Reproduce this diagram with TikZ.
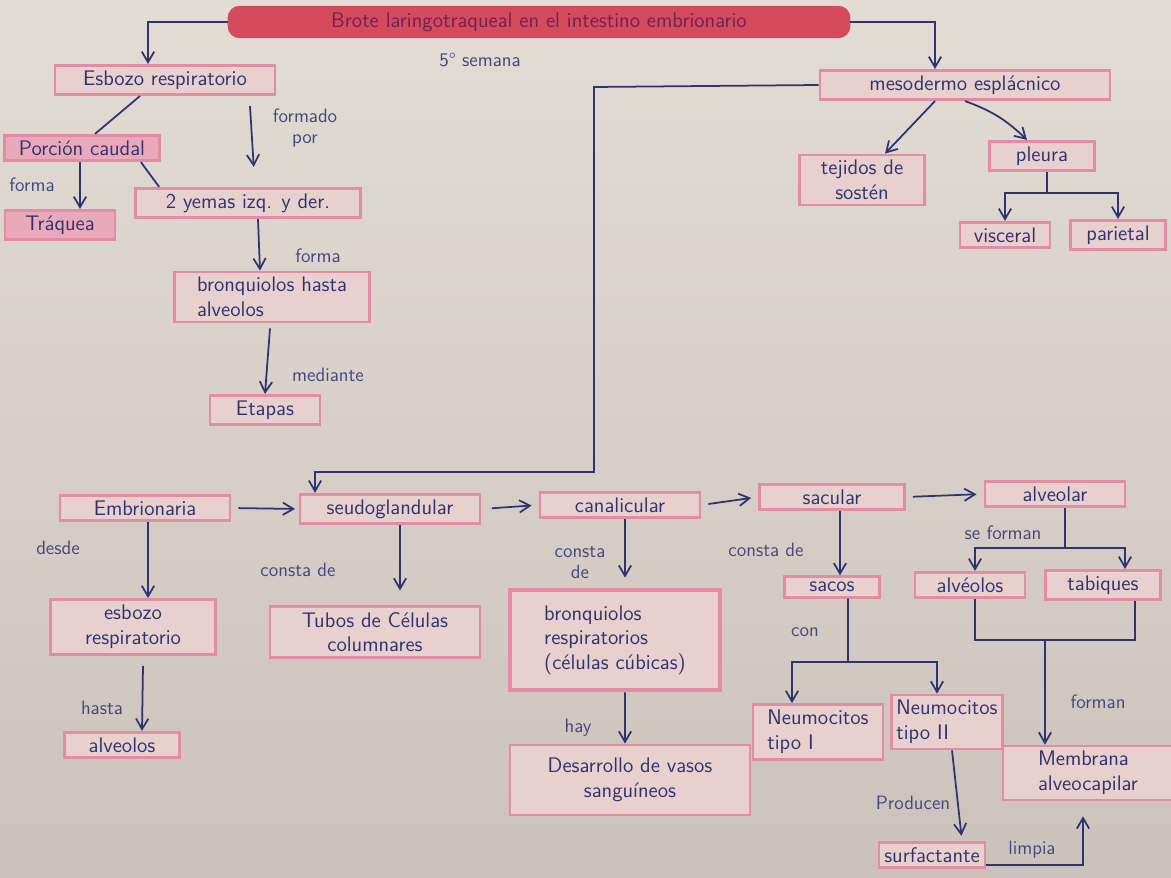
\documentclass[tikz,border=0pt]{standalone}
\usepackage{tikz}
\usetikzlibrary{arrows.meta}

\definecolor{papel}{RGB}{226,220,212}
\definecolor{papelbajo}{RGB}{204,194,188}
\definecolor{tinta}{RGB}{48,52,110}
\definecolor{rosa}{RGB}{226,140,165}
\definecolor{rosafondo}{RGB}{232,208,206}
\definecolor{rojo}{RGB}{214,74,94}
\definecolor{tintatitulo}{RGB}{110,35,80}

\begin{document}
\begin{tikzpicture}
[
    x=0.02cm, y=-0.02cm,
    concepto/.style={draw=rosa, line width=1.6pt, fill=rosafondo, text=tinta,
        font=\sffamily\large, inner sep=3pt, align=center},
    resaltado/.style={concepto, fill=rosa!75},
    etiqueta/.style={text=tinta!90, font=\sffamily\fontsize{11}{12}\selectfont, align=center},
    flecha/.style={-{Straight Barb[length=6pt,width=7pt]}, tinta, line width=1pt},
    linea/.style={tinta, line width=1pt},
]
% hoja
\fill[top color=papel, bottom color=papelbajo] (0,0) rectangle (1171,878);
\useasboundingbox (0,0) rectangle (1171,878);

% titulo
\node [concepto, fill=rojo, draw=rojo, text=tintatitulo, rounded corners=6pt,
    minimum width=12.4cm, minimum height=0.56cm] (titulo) at (539,22)
    {Brote laringotraqueal en el intestino embrionario};
\node [etiqueta] (semana) at (480,60) {5° semana};

% rama izquierda
\node [concepto, minimum width=4.4cm] (esbozo) at (165,80) {Esbozo respiratorio};
\node [resaltado, minimum width=3.1cm] (porcion) at (82,148) {Porción caudal};
\node [resaltado, minimum width=2.2cm] (traquea) at (60,225) {Tráquea};
\node [concepto, minimum width=4.5cm] (yemas) at (248,203) {2 yemas izq. y der.};
\node [concepto, align=left, minimum width=3.9cm] (bronqh) at (272,297)
    {bronquiolos hasta\\alveolos};
\node [concepto, minimum width=2.2cm] (etapas) at (265,410) {Etapas};

% rama derecha
\node [concepto, minimum width=5.8cm] (meso) at (965,85) {mesodermo esplácnico};
\node [concepto, minimum width=2.5cm, minimum height=0.95cm] (tejidos) at (862,180)
    {tejidos de\\sostén};
\node [concepto, minimum width=2.1cm] (pleura) at (1042,156) {pleura};
\node [concepto, minimum width=1.8cm] (visceral) at (1005,235) {visceral};
\node [concepto, minimum width=1.9cm] (parietal) at (1118,235) {parietal};

% etapas
\node [concepto, minimum width=3.4cm] (embrio) at (145,508) {Embrionaria};
\node [concepto, minimum width=3.6cm] (seudo) at (390,509) {seudoglandular};
\node [concepto, minimum width=3.2cm] (canal) at (620,505) {canalicular};
\node [concepto, minimum width=2.9cm] (sacular) at (832,497) {sacular};
\node [concepto, minimum width=2.8cm] (alveolar) at (1055,494) {alveolar};

\node [concepto, minimum width=3.3cm, minimum height=1.1cm] (esbozo2) at (133,627)
    {esbozo\\respiratorio};
\node [concepto, minimum width=2.3cm] (alveolos1) at (122,745) {alveolos};
\node [concepto, minimum width=4.2cm] (tubos) at (375,632)
    {Tubos de Células\\columnares};
\node [concepto, line width=2.6pt, align=left, minimum width=4.2cm, minimum height=2cm]
    (bronqr) at (615,640) {bronquiolos\\respiratorios\\(células cúbicas)};
\node [concepto, minimum width=4.8cm, minimum height=1.4cm] (vasos) at (630,780)
    {Desarrollo de vasos\\sanguíneos};
\node [concepto, minimum width=1.9cm] (sacos) at (832,587) {sacos};
\node [concepto, align=left, minimum width=2.6cm, minimum height=1.1cm] (neumo1)
    at (818,732) {Neumocitos\\tipo I};
\node [concepto, align=left, minimum height=1cm] (neumo2) at (947,722)
    {Neumocitos\\tipo II};
\node [concepto, minimum width=2.2cm] (alveolos2) at (970,585) {alvéolos};
\node [concepto, minimum width=2.3cm] (tabiques) at (1103,585) {tabiques};
\node [concepto, align=left, minimum width=3.4cm] (membrana) at (1088,773)
    {Membrana\\alveocapilar};
\node [concepto, minimum width=2.1cm] (surf) at (932,855) {surfactante};

% etiquetas
\node [etiqueta] (lformado) at (305,128) {formado\\por};
\node [etiqueta] (lforma1) at (32,185) {forma};
\node [etiqueta] (lforma2) at (318,256) {forma};
\node [etiqueta] (lmediante) at (328,375) {mediante};
\node [etiqueta] (ldesde) at (58,548) {desde};
\node [etiqueta] (lhasta) at (102,708) {hasta};
\node [etiqueta] (lconsta1) at (298,570) {consta de};
\node [etiqueta] (lconsta2) at (580,563) {consta\\de};
\node [etiqueta] (lhay) at (578,728) {hay};
\node [etiqueta] (lconsta3) at (766,550) {consta de};
\node [etiqueta] (lcon) at (805,632) {con};
\node [etiqueta] (lseforman) at (1003,533) {se forman};
\node [etiqueta] (lforman) at (1098,702) {forman};
\node [etiqueta] (lproducen) at (913,803) {Producen};
\node [etiqueta] (llimpia) at (1032,850) {limpia};

% codos y buses
\coordinate (codo1) at (594,87);
\coordinate (codo2) at (594,472);
\coordinate (bus1) at (1047,193);
\coordinate (bus2) at (848,662);
\coordinate (bus3) at (1065,548);
\coordinate (bus4) at (1045,640);

% conexiones del titulo
\draw [flecha] (titulo.west) -| ([xshift=-0.34cm]esbozo.north);
\draw [flecha] (titulo.east) -| ([xshift=-0.6cm]meso.north);

% rama izquierda
\draw [linea] ([xshift=-0.5cm]esbozo.south) -- ([xshift=0.26cm]porcion.north);
\draw [flecha, shorten >=0.4cm] ([xshift=1.7cm,yshift=-0.2cm]esbozo.south)
    -- ([xshift=0.14cm]yemas.north);
\draw [linea] ([xshift=-0.4cm]porcion.south east) -- ([xshift=0.5cm]yemas.north west);
\draw [flecha] ([xshift=-0.04cm]porcion.south) -- ([xshift=0.4cm]traquea.north);
\draw [flecha] ([xshift=0.2cm]yemas.south) -- ([xshift=-0.24cm]bronqh.north);
\draw [flecha] ([xshift=-0.04cm,yshift=-0.1cm]bronqh.south) -- (etapas.north);

% rama derecha
\draw [flecha] ([xshift=-0.6cm]meso.south) -- ([xshift=0.46cm]tejidos.north);
\draw [flecha] (meso.south) to[bend left=12] ([xshift=-0.3cm]pleura.north);
\draw [linea] (pleura.south -| bus1) -- (bus1);
\draw [flecha] (bus1) -| (visceral.north);
\draw [flecha] (bus1) -| (parietal.north);

% del mesodermo a la etapa seudoglandular
\draw [flecha] (meso.west) -- (codo1) -- (codo2) -| ([xshift=-1.5cm]seudo.north);

% secuencia de etapas
\draw [flecha, shorten <=4pt, shorten >=2pt] (embrio.east) -- (seudo.west);
\draw [flecha, shorten <=6pt, shorten >=4pt] (seudo.east) -- (canal.west);
\draw [flecha, shorten <=4pt, shorten >=4pt] (canal.east) -- (sacular.west);
\draw [flecha, shorten <=4pt, shorten >=4pt] (sacular.east) -- (alveolar.west);

% embrionaria
\draw [flecha] ([xshift=0.06cm]embrio.south) -- ([xshift=0.3cm]esbozo2.north);
\draw [flecha] ([xshift=0.2cm,yshift=-0.2cm]esbozo2.south) -- ([xshift=0.4cm]alveolos1.north);

% seudoglandular y canalicular
\draw [flecha, shorten >=0.3cm] ([xshift=0.2cm]seudo.south) -- ([xshift=0.5cm]tubos.north);
\draw [flecha, shorten >=0.2cm] ([xshift=0.1cm]canal.south) -- ([xshift=0.2cm]bronqr.north);
\draw [flecha] ([xshift=0.2cm]bronqr.south) -- ([xshift=-0.1cm]vasos.north);

% sacular
\draw [flecha] ([xshift=0.16cm]sacular.south) -- ([xshift=0.16cm]sacos.north);
\draw [linea] ([xshift=0.32cm]sacos.south) -- (bus2);
\draw [flecha] (bus2) -| ([xshift=-0.52cm]neumo1.north);
\draw [flecha] (bus2) -| ([xshift=-0.2cm]neumo2.north);
\draw [flecha, shorten >=0.1cm] ([xshift=0.1cm]neumo2.south) -- ([xshift=0.6cm]surf.north);
\draw [flecha, shorten >=0.3cm] ([yshift=-0.2cm]surf.east) -| ([xshift=-0.1cm]membrana.south);

% alveolar
\draw [linea] ([xshift=0.2cm]alveolar.south) -- (bus3);
\draw [flecha] (bus3) -| ([xshift=0.1cm]alveolos2.north);
\draw [flecha] (bus3) -| ([xshift=0.44cm]tabiques.north);
\draw [linea] ([xshift=0.1cm]alveolos2.south) |- (bus4) -| ([xshift=0.64cm]tabiques.south);
\draw [flecha] (bus4) -- (bus4 |- membrana.north);
\end{tikzpicture}
\end{document}
